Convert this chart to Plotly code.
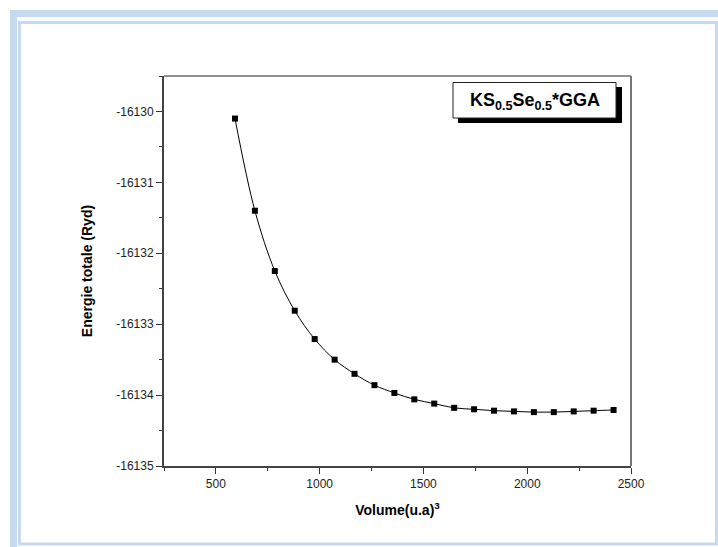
import plotly.graph_objects as go

volume = [592, 688, 784, 880, 976, 1072, 1168, 1264, 1360, 1456,
          1552, 1648, 1744, 1840, 1936, 2032, 2128, 2224, 2320, 2416]
energy = [-16130.10, -16131.40, -16132.25, -16132.81, -16133.21, -16133.50,
          -16133.70, -16133.86, -16133.97, -16134.06, -16134.12, -16134.18,
          -16134.20, -16134.22, -16134.23, -16134.24, -16134.24, -16134.23,
          -16134.22, -16134.21]

x_ticks = [500, 1000, 1500, 2000, 2500]
y_ticks = [-16130, -16131, -16132, -16133, -16134, -16135]

W, H = 718, 547
L, R, T, B = 164, 631, 76, 466  # plot area in pixels


def px(x):
    return (x - L) / (R - L)


def py(y):
    return (B - y) / (B - T)


FONT = "Liberation Sans, Arial, sans-serif"
BLUE = "#c6d9f0"

fig = go.Figure()
fig.add_trace(go.Scatter(
    x=volume, y=energy, mode="lines+markers",
    line=dict(color="black", width=1, shape="spline", smoothing=1.0),
    marker=dict(symbol="square", size=6, color="black"),
    showlegend=False, cliponaxis=False,
))

axis_common = dict(
    showgrid=False, zeroline=False, showline=True, linecolor="#444",
    linewidth=2, ticks="outside", ticklen=6, tickwidth=1, tickcolor="#333",
    tickfont=dict(family=FONT, size=12, color="#222"),
    minor=dict(ticks="outside", ticklen=3, tickwidth=1, tickcolor="#333"),
)

fig.update_xaxes(
    range=[250, 2500], tickvals=x_ticks, ticktext=[str(v) for v in x_ticks],
    minor_dtick=250, minor_tick0=250,
    title=dict(text="<b>Volume(u.a)<sup>3</sup></b>",
               font=dict(family=FONT, size=14, color="black"), standoff=15),
    **axis_common,
)
fig.update_yaxes(
    range=[-16135, -16129.5], tickvals=y_ticks, ticktext=[str(v) for v in y_ticks],
    minor_dtick=0.5, minor_tick0=0,
    title=dict(text="<b>Energie totale (Ryd)</b>",
               font=dict(family=FONT, size=14, color="black"), standoff=20),
    **axis_common,
)

shapes = [
    # outer light blue band
    dict(type="rect", xref="paper", yref="paper",
         x0=px(13.5), y0=py(13.5), x1=px(760), y1=py(600),
         line=dict(color=BLUE, width=7), fillcolor="rgba(0,0,0,0)", layer="below"),
    # inner light blue frame
    dict(type="rect", xref="paper", yref="paper",
         x0=px(19.5), y0=py(22.5), x1=px(716.5), y1=py(544),
         line=dict(color=BLUE, width=3), fillcolor="rgba(0,0,0,0)", layer="below"),
    # top and right axis lines
    dict(type="line", xref="paper", yref="paper", x0=0, x1=1, y0=1, y1=1,
         line=dict(color="#222", width=1)),
    dict(type="line", xref="paper", yref="paper", x0=1, x1=1, y0=0, y1=1,
         line=dict(color="#777", width=2)),
    # label box shadow
    dict(type="rect", xref="paper", yref="paper",
         x0=px(458), y0=py(123), x1=px(622), y1=py(87),
         line=dict(color="black", width=0), fillcolor="black"),
    # label box
    dict(type="rect", xref="paper", yref="paper",
         x0=px(453), y0=py(118), x1=px(616), y1=py(82.5),
         line=dict(color="#222", width=1), fillcolor="white"),
]

fig.add_annotation(
    xref="paper", yref="paper", x=px(535), y=py(101),
    text="<b>KS<sub>0.5</sub>Se<sub>0.5</sub>*GGA</b>", showarrow=False,
    font=dict(family=FONT, size=18, color="black"), xanchor="center", yanchor="middle",
)

fig.update_layout(
    width=W, height=H,
    margin=dict(l=L, r=W - R, t=T, b=H - B),
    paper_bgcolor="white", plot_bgcolor="white",
    shapes=shapes,
)

fig.write_html("out.html")
